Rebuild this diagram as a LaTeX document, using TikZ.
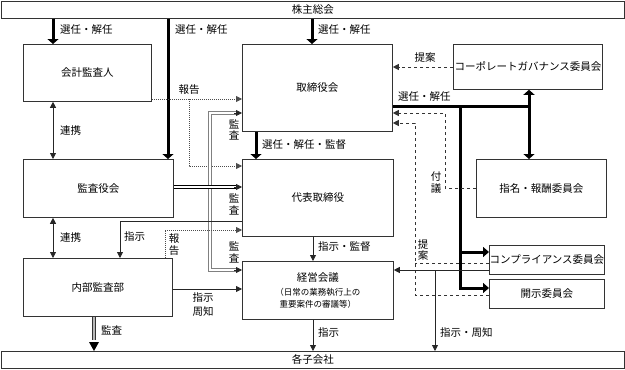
\documentclass[tikz,border=0pt]{standalone}
\usepackage{fontspec}
\setmainfont{Noto Sans CJK JP}
\usetikzlibrary{arrows.meta}
\begin{document}
\begin{tikzpicture}[x=1pt,y=-1pt,
  font=\fontsize{10.5}{12}\selectfont,
  box/.style={draw=black!80, line width=0.8pt, inner sep=0pt, anchor=north west},
  lab/.style={inner sep=0pt, anchor=west},
  vlab/.style={inner sep=0pt, align=center, font=\fontsize{10.5}{11.5}\selectfont},
  thin/.style={line width=0.8pt, draw=black!85},
  tip/.style={-{Triangle[length=6pt,width=6pt]}},
  bothtip/.style={{Triangle[length=6pt,width=6pt]}-{Triangle[length=6pt,width=6pt]}},
  thickarr/.style={line width=3pt, -{Triangle[length=5pt,width=11pt]}},
  thickline/.style={line width=3pt},
  dotline/.style={line width=0.8pt, draw=black!70, dash pattern=on 1pt off 1pt},
  dashline/.style={line width=0.8pt, draw=black!80, dash pattern=on 3.5pt off 2.5pt},
  dblblack/.style={draw=black, double=white, line width=0.8pt, double distance=1.6pt},
  dblgrey/.style={draw=black!50, double=white, line width=0.9pt, double distance=1.4pt},
]
\useasboundingbox (0,0) rectangle (625,370);

% boxes
\node[box, minimum width=623pt, minimum height=17pt] (soukai) at (1,1) {株主総会};
\node[box, minimum width=623pt, minimum height=17pt] (kogaisha) at (1,351) {各子会社};
\node[box, minimum width=128pt, minimum height=57pt] (kaikei) at (23,44) {会計監査人};
\node[box, minimum width=150pt, minimum height=58pt] (kansa) at (23,159) {監査役会};
\node[box, minimum width=149pt, minimum height=58pt] (naibu) at (23,258) {内部監査部};
\node[box, minimum width=150pt, minimum height=87pt] (tori) at (242,44) {取締役会};
\node[box, minimum width=151pt, minimum height=77pt] (daihyo) at (242,159) {代表取締役};
\node[box, minimum width=151pt, minimum height=58pt, align=center] (keiei) at (242,261)
  {経営会議\\[2pt]\fontsize{8.5}{10.5}\selectfont （日常の業務執行上の\\\fontsize{8.5}{10.5}\selectfont 重要案件の審議等）};
\node[box, minimum width=149pt, minimum height=45pt] (cg) at (453,44) {コーポレートガバナンス委員会};
\node[box, minimum width=130pt, minimum height=58pt] (shimei) at (476,159) {指名・報酬委員会};
\node[box, minimum width=115pt, minimum height=29pt] (comp) at (489,245) {コンプライアンス委員会};
\node[box, minimum width=115pt, minimum height=29pt] (kaiji) at (489,279) {開示委員会};

% shareholders meeting
\draw[thickarr] (53,0 |- soukai.south) -- (53,0 |- kaikei.north);
\node[lab] at (60,30) {選任・解任};
\draw[thickarr] (168,0 |- soukai.south) -- (168,0 |- kansa.north);
\node[lab] at (175,30) {選任・解任};
\draw[thickarr] (312,0 |- soukai.south) -- (312,0 |- tori.north);
\node[lab] at (318,30) {選任・解任};

% cooperation
\draw[thin, bothtip] (53,0 |- kaikei.south) -- (53,0 |- kansa.north);
\node[lab] at (60,131) {連携};
\draw[thin, bothtip] (53,0 |- kansa.south) -- (53,0 |- naibu.north);
\node[lab] at (60,238) {連携};

% report from auditor
\draw[dotline, tip] (kaikei.east |- 0,99) -- (tori.west |- 0,99);
\draw[dotline, tip] (189,99) -- (189,166) -- (daihyo.west |- 0,166);
\node[inner sep=0pt] at (189,90) {報告};

% audit by board of auditors
\draw[dblgrey] (236,113) -- (210,113) -- (210,270) -- (236,270);
\draw[dblblack] (kansa.east |- 0,187) -- (236,187);
\draw[thin, tip] (234,113) -- (tori.west |- 0,113);
\draw[thin, tip] (234,187) -- (daihyo.west |- 0,187);
\draw[thin, tip] (234,270) -- (keiei.west |- 0,270);
\node[vlab] at (234,130) {監\\査};
\node[vlab] at (234,204.5) {監\\査};
\node[vlab] at (234,252.5) {監\\査};

% board -> representative director
\draw[thickarr] (256,0 |- tori.south) -- (256,0 |- daihyo.north);
\node[lab] at (262,145) {選任・解任・監督};
\draw[thin, tip] (313,0 |- daihyo.south) -- (313,0 |- keiei.north);
\node[lab] at (318,247) {指示・監督};
\draw[thin, tip] (313,0 |- keiei.south) -- (313,0 |- kogaisha.north);
\node[lab] at (318,333) {指示};

% internal audit
\draw[draw=black!80, double=gray!55, line width=0.7pt, double distance=2.6pt] (94,0 |- naibu.south) -- (94,340);
\coordinate (ia) at (94,0 |- kogaisha.north);
\fill[black] (ia) -- ++(-5,-9) -- ++(10,0) -- cycle;
\node[lab] at (101,330) {監査};
\draw[thin, tip] (naibu.east |- 0,289) -- (keiei.west |- 0,289);
\node[vlab, font=\fontsize{10.5}{14}\selectfont] at (203,305) {指示\\周知};
\draw[thin, tip] (daihyo.west |- 0,221) -- (120,221) -- (120,0 |- naibu.north);
\node[lab] at (124,237) {指示};
\draw[dotline, tip] (165,0 |- naibu.north) -- (165,230) -- (daihyo.west |- 0,230);
\node[vlab] at (174,244.5) {報\\告};

% committees
\draw[dashline, tip] (cg.west |- 0,67) -- (tori.east |- 0,67);
\node[inner sep=0pt] at (425,58) {提案};
\draw[thickline] (tori.east |- 0,106) -- (529,106);
\draw[thickarr] (529,106) -- (529,0 |- cg.south);
\draw[thickarr] (529,106) -- (529,0 |- shimei.north);
\draw[thickline] (460,106) -- (460,252);
\draw[line width=3pt, -{Triangle[length=6pt,width=10pt]}] (460,252) -- (comp.west |- 0,252);
\draw[line width=3pt, -{Triangle[length=6pt,width=10pt]}] (460,250) -- (460,288) -- (kaiji.west |- 0,288);
\node[lab] at (398,97) {選任・解任};

\draw[dashline, tip] (shimei.west |- 0,188) -- (445,188) -- (445,113) -- (tori.east |- 0,113);
\node[vlab] at (436,182.5) {付\\議};
\draw[dashline, tip] (kaiji.west |- 0,295) -- (415,295) -- (415,123) -- (tori.east |- 0,123);
\draw[dashline] (comp.west |- 0,263) -- (415,263);
\node[vlab] at (423,250) {提\\案};

\draw[thin, tip] (comp.west |- 0,270) -- (keiei.east |- 0,270);
\draw[thin, tip] (435,270) -- (435,0 |- kogaisha.north);
\node[lab] at (440,333) {指示・周知};
\end{tikzpicture}
\end{document}
